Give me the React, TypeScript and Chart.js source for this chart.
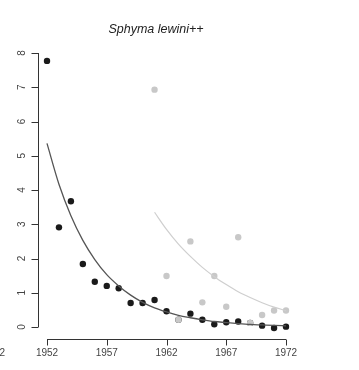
import React, { useEffect, useRef } from "react";
import { Chart, registerables } from "chart.js";

Chart.register(...registerables);

const years = [1952, 1953, 1954, 1955, 1956, 1957, 1958, 1959, 1960, 1961, 1962, 1963, 1964, 1965, 1966, 1967, 1968, 1969, 1970, 1971, 1972];
const blackPoints = [7.77, 2.91, 3.67, 1.84, 1.32, 1.2, 1.13, 0.7, 0.7, 0.79, 0.46, 0.21, 0.39, 0.21, 0.08, 0.14, 0.16, 0.12, 0.04, -0.03, 0.01];
const greyYears = [1961, 1962, 1963, 1964, 1965, 1966, 1967, 1968, 1969, 1970, 1971, 1972];
const greyPoints = [6.93, 1.49, 0.21, 2.5, 0.72, 1.49, 0.59, 2.62, 0.12, 0.35, 0.48, 0.48];
const blackCurve = [5.36, 4.17, 3.25, 2.53, 1.97, 1.53, 1.2, 0.93, 0.72, 0.56, 0.44, 0.34, 0.27, 0.21, 0.16, 0.13, 0.1, 0.075, 0.06, 0.045, 0.035];
const greyCurve = [3.35, 2.85, 2.42, 2.06, 1.74, 1.47, 1.24, 1.03, 0.86, 0.71, 0.58, 0.48];
const xTicks = [1952, 1957, 1962, 1967, 1972];
const yTicks = [0, 1, 2, 3, 4, 5, 6, 7, 8];
const titleText = "Sphyma lewini++";

const labelFont = "10px 'Liberation Sans', Arial, sans-serif";

const rAxesPlugin = {
  id: "rAxes",
  afterDraw(chart: any) {
    const ctx = chart.ctx;
    const xs = chart.scales.x;
    const ys = chart.scales.y;
    const area = chart.chartArea;
    ctx.save();
    ctx.strokeStyle = "#333";
    ctx.lineWidth = 1;
    ctx.fillStyle = "#444";
    ctx.font = labelFont;
    // y axis
    const ax = Math.round(area.left - 9) + 0.5;
    const y0 = ys.getPixelForValue(yTicks[0]);
    const y1 = ys.getPixelForValue(yTicks[yTicks.length - 1]);
    ctx.beginPath();
    ctx.moveTo(ax, y0);
    ctx.lineTo(ax, y1);
    yTicks.forEach((t) => {
      const py = Math.round(ys.getPixelForValue(t)) + 0.5;
      ctx.moveTo(ax, py);
      ctx.lineTo(ax - 7, py);
    });
    ctx.stroke();
    ctx.textAlign = "center";
    ctx.textBaseline = "middle";
    yTicks.forEach((t) => {
      const py = ys.getPixelForValue(t);
      ctx.save();
      ctx.translate(ax - 16, py);
      ctx.rotate(-Math.PI / 2);
      ctx.fillText(String(t), 0, 0);
      ctx.restore();
    });
    // x axis
    const ay = Math.round(area.bottom + 12) + 0.5;
    const x0 = xs.getPixelForValue(xTicks[0]);
    const x1 = xs.getPixelForValue(xTicks[xTicks.length - 1]);
    ctx.beginPath();
    ctx.moveTo(x0, ay);
    ctx.lineTo(x1, ay);
    xTicks.forEach((t) => {
      const px = Math.round(xs.getPixelForValue(t)) + 0.5;
      ctx.moveTo(px, ay);
      ctx.lineTo(px, ay + 6);
    });
    ctx.stroke();
    xTicks.forEach((t) => {
      ctx.fillText(String(t), xs.getPixelForValue(t), ay + 14);
    });
    // cut-off label of neighbouring panel
    ctx.textAlign = "right";
    ctx.fillText(String(xTicks[xTicks.length - 1]), 5, ay + 14);
    // title
    ctx.fillStyle = "#222";
    ctx.textAlign = "center";
    ctx.font = "italic 12.5px 'Liberation Sans', Arial, sans-serif";
    ctx.fillText(titleText, 156, 30);
    ctx.restore();
  },
};

export default function App() {
  const ref = useRef<HTMLCanvasElement | null>(null);
  useEffect(() => {
    document.body.style.margin = "0";
    const canvas = ref.current;
    if (!canvas) return;
    const chart = new Chart(canvas, {
      type: "scatter",
      data: {
        datasets: [
          {
            label: "fit black",
            data: years.map((x, i) => ({ x, y: blackCurve[i] })),
            showLine: true,
            borderColor: "#555555",
            borderWidth: 1.3,
            pointRadius: 0,
            cubicInterpolationMode: "monotone",
            clip: false,
          } as any,
          {
            label: "fit grey",
            data: greyYears.map((x, i) => ({ x, y: greyCurve[i] })),
            showLine: true,
            borderColor: "#cfcfcf",
            borderWidth: 1.2,
            pointRadius: 0,
            cubicInterpolationMode: "monotone",
            clip: false,
          } as any,
          {
            label: "grey",
            data: greyYears.map((x, i) => ({ x, y: greyPoints[i] })),
            backgroundColor: "#c8c8c8",
            borderColor: "#c8c8c8",
            pointRadius: 3.2,
            borderWidth: 0,
            clip: false,
          } as any,
          {
            label: "black",
            data: years.map((x, i) => ({ x, y: blackPoints[i] })),
            backgroundColor: "#1a1a1a",
            borderColor: "#1a1a1a",
            pointRadius: 3.2,
            borderWidth: 0,
            clip: false,
          } as any,
        ],
      },
      options: {
        animation: false,
        responsive: false,
        maintainAspectRatio: false,
        layout: { padding: { left: 47, right: 73, top: 53, bottom: 43 } },
        plugins: { legend: { display: false }, tooltip: { enabled: false }, title: { display: false } },
        scales: {
          x: { type: "linear", min: 1952, max: 1972, display: false },
          y: { type: "linear", min: 0, max: 8, display: false },
        },
      },
      plugins: [rAxesPlugin],
    });
    return () => chart.destroy();
  }, []);
  return (
    <div style={{ position: "absolute", left: 0, top: 0, width: 359, height: 370, background: "#fff" }}>
      <canvas ref={ref} width={359} height={370} style={{ width: 359, height: 370 }} />
    </div>
  );
}
